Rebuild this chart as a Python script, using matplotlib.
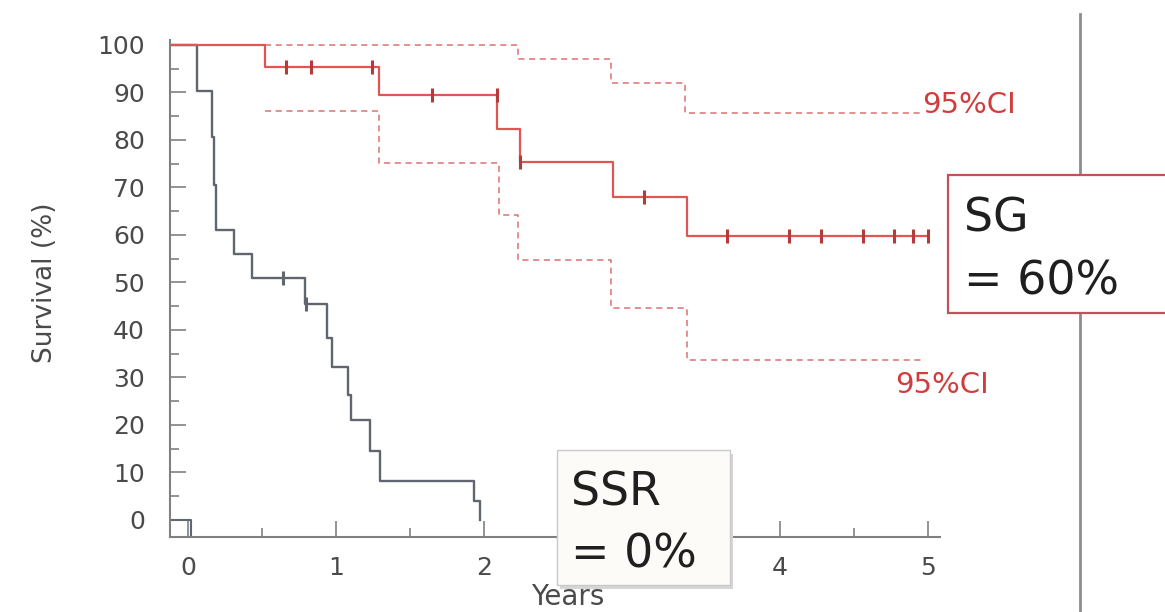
import matplotlib.pyplot as plt
from matplotlib.patches import Rectangle
from matplotlib.lines import Line2D
from matplotlib.ticker import MultipleLocator

# SSR group (grey curve): event times (years) and survival (%) after each step
ssr_time = [-0.12, 0.06, 0.16, 0.175, 0.19, 0.31, 0.43, 0.79, 0.94, 0.97,
            1.08, 1.10, 1.23, 1.30, 1.93, 1.97]
ssr_surv = [100, 90.4, 80.6, 70.5, 61, 56, 51, 45.5, 38.3, 32.3,
            26.4, 21, 14.5, 8.3, 4, 0]
ssr_cens_time = [0.64, 0.80]
ssr_cens_surv = [51, 45.5]
ssr_stub_x = [-0.12, 0.02, 0.02]
ssr_stub_y = [0, 0, -3.6]

# SG group (red curve) with 95% CI bounds
sg_time = [-0.12, 0.52, 1.29, 2.09, 2.24, 2.87, 3.37]
sg_surv = [100, 95.3, 89.5, 82.3, 75.4, 68.1, 59.7]
sg_end = 5.0
sg_cens_time = [0.66, 0.83, 1.24, 1.65, 2.09, 2.24, 3.08,
                3.64, 4.06, 4.28, 4.56, 4.77, 4.90, 5.0]
sg_cens_surv = [95.3, 95.3, 95.3, 89.5, 89.5, 75.4, 68.1,
                59.7, 59.7, 59.7, 59.7, 59.7, 59.7, 59.7]

ci_hi_time = [0.52, 2.23, 2.86, 3.36]
ci_hi_surv = [100, 97, 92.1, 85.6]
ci_hi_end = 4.95
ci_lo_time = [0.52, 1.29, 2.10, 2.23, 2.86, 3.37]
ci_lo_surv = [86, 75.1, 64.2, 54.7, 44.6, 33.7]
ci_lo_end = 4.97

x_ticks = [0, 1, 2, 3, 4, 5]
x_labels = ['0', '1', '2', '', '4', '5']  # "3" sits under the SSR box
y_ticks = list(range(0, 101, 10))

# colors
grey_curve = '#5f6670'
red_curve = '#e25555'
red_ci = '#db7070'
red_mark = '#b53b3b'
axis_grey = '#808080'
label_grey = '#4a4a4a'

plt.rcParams['font.family'] = ['DejaVu Sans']

W, H = 1165, 612
fig = plt.figure(figsize=(W / 100, H / 100), dpi=100)
ax = fig.add_axes([170 / W, 1 - 537 / H, (940 - 170) / W, (537 - 40) / H])


def km(ax, t, s, end, **kw):
    ax.step(t + [end], s + [s[-1]], where='post', **kw)


# SSR curve
km(ax, ssr_time, ssr_surv, ssr_time[-1], color=grey_curve, lw=1.7)
ax.plot(ssr_stub_x, ssr_stub_y, color=grey_curve, lw=1.5)
ax.plot(ssr_cens_time, ssr_cens_surv, ls='none', marker='|', ms=10, mew=2.2,
        color=grey_curve)

# SG curve and CI
km(ax, ci_hi_time, ci_hi_surv, ci_hi_end, color=red_ci, lw=1.1, ls=(0, (4, 3)))
km(ax, ci_lo_time, ci_lo_surv, ci_lo_end, color=red_ci, lw=1.1, ls=(0, (4, 3)))
km(ax, sg_time, sg_surv, sg_end, color=red_curve, lw=1.6)
ax.plot(sg_cens_time, sg_cens_surv, ls='none', marker='|', ms=10, mew=2.2,
        color=red_mark)

ax.text(4.96, 87.4, '95%CI', color='#d23c3c', fontsize=21, va='center',
        ha='left', clip_on=False)
ax.text(4.78, 28.4, '95%CI', color='#d23c3c', fontsize=21, va='center',
        ha='left', clip_on=False)

# axes styling
ax.set_xlim(-0.1216, 5.081)
ax.set_ylim(-3.58, 101.05)
for side in ['top', 'right']:
    ax.spines[side].set_visible(False)
for side in ['left', 'bottom']:
    ax.spines[side].set_color(axis_grey)
    ax.spines[side].set_linewidth(1.5)
ax.set_xticks(x_ticks)
ax.set_xticklabels(x_labels)
ax.set_yticks(y_ticks)
ax.xaxis.set_minor_locator(MultipleLocator(0.5))
ax.yaxis.set_minor_locator(MultipleLocator(5))
ax.tick_params(which='both', direction='in', color=axis_grey,
               labelcolor=label_grey, labelsize=18, width=1.2)
ax.tick_params(which='major', length=11.5)
ax.tick_params(which='minor', length=6.5)
ax.tick_params(axis='y', pad=18)
ax.tick_params(axis='x', pad=14)

ax.set_ylabel('Survival (%)', fontsize=19, color=label_grey, va='center')
ax.yaxis.set_label_coords(-0.162, 0.511)
ax.set_xlabel('Years', fontsize=20, color=label_grey)
ax.xaxis.set_label_coords(0.517, -0.093)

# divider line on the right
fig.add_artist(Line2D([1080 / W, 1080 / W], [0, 1 - 14 / H],
                      transform=fig.transFigure, color='#8c8c8c', lw=2))

# SG box
fig.add_artist(Rectangle((948 / W, 1 - 313 / H), 260 / W, 138 / H,
                         transform=fig.transFigure, fc='white', ec='#c4505a',
                         lw=1.6, zorder=5))
fig.text(964 / W, 1 - 231 / H, 'SG', fontsize=33, color='#1f1f1f',
         va='baseline', zorder=6)
fig.text(964 / W, 1 - 294 / H, '= 60%', fontsize=33, color='#1f1f1f',
         va='baseline', zorder=6)

# SSR box with a soft shadow
fig.add_artist(Rectangle((560 / W, 1 - 589 / H), 173 / W, 135 / H,
                         transform=fig.transFigure, fc='#d6d6d6', ec='none',
                         zorder=4))
fig.add_artist(Rectangle((557 / W, 1 - 585 / H), 173 / W, 135 / H,
                         transform=fig.transFigure, fc='#fcfbf7', ec='#c9c9c9',
                         lw=1, zorder=5))
fig.text(571 / W, 1 - 506 / H, 'SSR', fontsize=33, color='#1f1f1f',
         va='baseline', zorder=6)
fig.text(571 / W, 1 - 568 / H, '= 0%', fontsize=33, color='#1f1f1f',
         va='baseline', zorder=6)

fig.savefig('out.png', dpi=100)
